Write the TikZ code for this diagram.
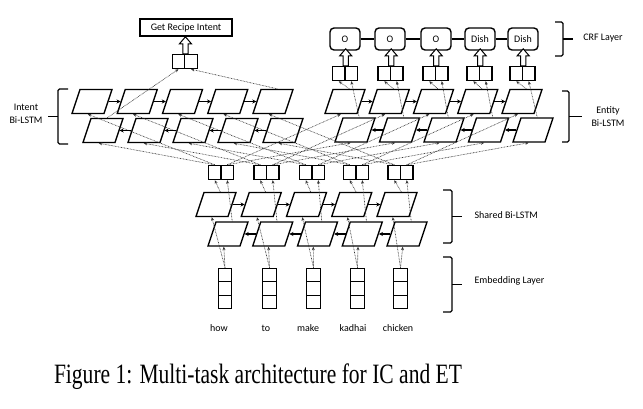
\documentclass[tikz,border=0pt]{standalone}
\usepackage{fontspec}
\setsansfont{Carlito}
\newfontfamily\capfont{Liberation Serif}
\usetikzlibrary{arrows.meta}
\begin{document}
\begin{tikzpicture}[x=1pt,y=-1pt,
  font=\sffamily\fontsize{10}{13}\selectfont,
  cell/.style={draw, line width=1.4pt, minimum width=32pt, minimum height=24pt,
    inner sep=0pt, xslant=0.333, transform shape},
  sq/.style={draw, line width=1.4pt, minimum width=12.5pt, minimum height=14pt, inner sep=0pt},
  emb/.style={draw, line width=1.4pt, minimum width=13.5pt, minimum height=13.5pt, inner sep=0pt},
  crf/.style={draw, rounded corners=4pt, line width=1.4pt, minimum width=30pt, minimum height=22pt, inner sep=0pt},
  intentbox/.style={draw, line width=1.4pt, minimum width=92pt, minimum height=17pt, inner sep=0pt},
  dots/.style={black!80, line width=0.65pt, dash pattern=on 0.7pt off 0.8pt, -{Stealth[length=3.5pt,width=3pt]}},
  rec/.style={line width=1.2pt, -{Stealth[length=4pt,width=4pt]}},
  crfline/.style={line width=2pt},
  brk/.style={line width=1.2pt, rounded corners=1.5pt},
  hollowup/.pic={\draw[line width=1pt, fill=white] (-2.6,0) -- (-2.6,-10) -- (-6,-10) -- (0,-17) -- (6,-10) -- (2.6,-10) -- (2.6,0) -- cycle;}
]
\useasboundingbox (0,0) rectangle (643,408);

% ---------- cells ----------
\foreach \i/\x in {1/92,2/137.25,3/182.5,4/227.75,5/273} \node[cell] (it\i) at (\x,101.5) {};
\foreach \i/\x in {1/103,2/148,3/193,4/238,5/283} \node[cell] (ib\i) at (\x,130.5) {};
\foreach \i/\x in {1/345,2/389.25,3/433.5,4/477.75,5/522} \node[cell] (et\i) at (\x,101.5) {};
\foreach \i/\x in {1/355,2/399.5,3/444,4/488.5,5/533} \node[cell] (eb\i) at (\x,130) {};
\foreach \i/\x in {1/216,2/261.25,3/306.5,4/351.75,5/397} \node[cell] (st\i) at (\x,204.5) {};
\foreach \i/\x in {1/228,2/272.75,3/317.5,4/362.25,5/407} \node[cell] (sb\i) at (\x,234) {};

% concat pairs (shared)
\foreach \i/\x in {1/221,2/266.5,3/312,4/356,5/400.5} {
  \node[sq] (cL\i) at (\x-6.25,172.5) {};
  \node[sq] (cR\i) at (\x+6.25,172.5) {};
}
% entity output pairs
\foreach \i/\x in {1/345,2/390.5,3/435.5,4/479.5,5/522.5} {
  \node[sq] (oL\i) at (\x-6.25,73.5) {};
  \node[sq] (oR\i) at (\x+6.25,73.5) {};
}
% intent output pair
\node[sq] (iL) at (178.5,61.5) {};
\node[sq] (iR) at (191,61.5) {};
\node[intentbox] (intent) at (186,27.5) {Get Recipe Intent};

% CRF boxes
\foreach \i/\x/\t in {1/345/O,2/390/O,3/436/O,4/480/Dish,5/523/Dish}
  \node[crf] (crf\i) at (\x,39) {\t};

% embeddings and words
\foreach \i/\x/\w/\wx in {1/225/how/219,2/269.5/to/266,3/313.5/make/308,4/357.5/kadhai/353,5/400.5/chicken/398} {
  \node[emb] (ea\i) at (\x,275) {};
  \node[emb] (emid\i) at (\x,288.5) {};
  \node[emb] (ec\i) at (\x,302) {};
  \node (w\i) at (\wx,328) {\w};
}

% ---------- connectors ----------
\foreach \i in {1,...,5} {
  \draw[dots] (ea\i.north) -- (sb\i.south);
  \draw[dots] (ea\i.north) -- (st\i.south);
  \draw[dots] (st\i.north) -- (cL\i.south);
  \draw[dots] (sb\i.north) -- (cR\i.south);
  \draw[dots] (cL\i.north) -- (it\i.south);
  \draw[dots] (cL\i.north) -- (ib\i.south);
  \draw[dots] (cR\i.north) -- (et\i.south);
  \draw[dots] (cR\i.north) -- (eb\i.south);
  \draw[dots] (et\i.north) -- (oL\i.south);
  \draw[dots] (eb\i.north) -- (oR\i.south);
  \pic at (oL\i.north east) {hollowup};
}
\draw[dots] (ib1.north) -- (iL.south);
\draw[dots] (it5.north) -- (iR.south);
\pic at (iL.north east) {hollowup};

\foreach \i/\j in {1/2,2/3,3/4,4/5} {
  \draw[rec] (st\i.east) -- (st\j.west);
  \draw[rec] (sb\j.west) -- (sb\i.east);
  \draw[rec] (it\i.east) -- (it\j.west);
  \draw[rec] (ib\j.west) -- (ib\i.east);
  \draw[rec] (et\i.east) -- (et\j.west);
  \draw[rec] (eb\j.west) -- (eb\i.east);
  \draw[crfline] (crf\i) -- (crf\j);
}

% ---------- brackets and labels ----------
\draw[brk] (68,89) -- (58,89) -- (58,144) -- (68,144);
\draw[brk] (58,116.5) -- (48,116.5);
\draw[brk] (562,91) -- (569,91) -- (569,142) -- (562,142);
\draw[brk] (569,116.5) -- (582,116.5);
\draw[brk] (555,22) -- (563,22) -- (563,56) -- (555,56);
\draw[brk] (563,39) -- (573,39);
\draw[brk] (443,190) -- (452,190) -- (452,243) -- (443,243);
\draw[brk] (452,216.5) -- (462,216.5);
\draw[brk] (443,257) -- (452,257) -- (452,312) -- (443,312);
\draw[brk] (452,284.5) -- (462,284.5);

\node[align=center] (lint) at (26,113.5) {Intent\\Bi-LSTM};
\node[align=center] (lent) at (608,117) {Entity\\Bi-LSTM};
\node (lcrf) at (603,38) {CRF Layer};
\node[anchor=west] (lsh) at (471,215) {Shared Bi-LSTM};
\node[anchor=west] (lemb) at (471,281) {Embedding Layer};

\node (caption) at (258,377) {\resizebox{408pt}{\height}{\capfont\fontsize{28}{30}\selectfont Figure 1: Multi-task architecture for IC and ET}};
\end{tikzpicture}
\end{document}
